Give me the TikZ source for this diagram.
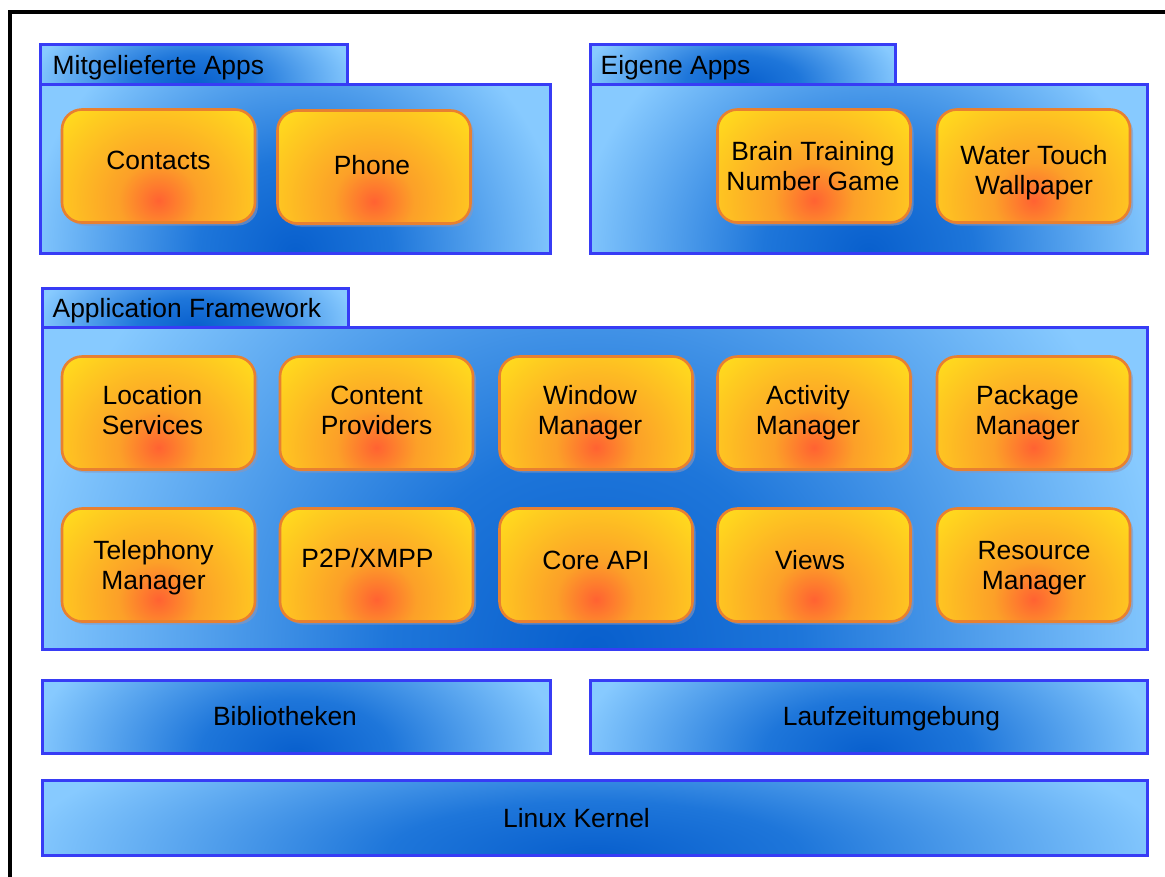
\documentclass[tikz,border=0pt]{standalone}
\usepackage{fontspec}
\setmainfont{Liberation Sans}
\usetikzlibrary{calc,shadows}

% panel blues
\definecolor{pdark}{RGB}{8,95,205}
\definecolor{pmid}{RGB}{30,118,218}
\definecolor{plight}{RGB}{135,202,255}
\definecolor{pborder}{RGB}{55,60,245}
% component oranges
\definecolor{ored}{RGB}{255,98,50}
\definecolor{oorange}{RGB}{252,160,40}
\definecolor{oyellow}{RGB}{255,216,30}
\definecolor{oborder}{RGB}{232,128,48}
\definecolor{oshadow}{RGB}{140,150,185}

\pgfdeclareradialshading{blueglow}{\pgfpoint{0bp}{0bp}}{%
  color(0bp)=(pdark); color(9bp)=(pmid); color(25bp)=(plight); color(50bp)=(plight)}
\pgfdeclareradialshading{orangeglow}{\pgfpoint{0bp}{0bp}}{%
  color(0bp)=(ored); color(8bp)=(oorange); color(25bp)=(oyellow); color(50bp)=(oyellow)}

\tikzset{
  txt/.style={inner sep=0pt, align=center, text=black,
              font=\fontsize{26.4}{30}\selectfont},
  panel/.style 2 args={draw=pborder, fill=plight, line width=3pt, rectangle, inner sep=0pt,
    path picture={\shade[shading=blueglow]
      (path picture bounding box.south) ellipse (#1 and #2);}},
  appbox/.style={draw=oborder, fill=oyellow, line width=2.6pt, rounded corners=20pt,
    minimum width=193pt, minimum height=113pt, inner sep=0pt,
    drop shadow={shadow xshift=3pt, shadow yshift=-3pt, fill=oshadow, opacity=0.6},
    path picture={\shade[shading=orangeglow]
      ($(path picture bounding box.south)+(0,-22)$) ellipse (125pt and 118pt);}},
}

% component box: name, centre x, centre y, text dx, text dy, text
\newcommand\mkapp[6]{%
  \node[appbox] (#1) at (#2,#3) {};
  \node[txt] (#1-t) at ($(#1)+(#4,#5)$) {#6};}

\begin{document}
\begin{tikzpicture}[x=1pt,y=-1pt]
\useasboundingbox (0,0) rectangle (1165,876);

% outer frame, running off the page to the right and bottom
\begin{scope}
  \clip (0,0) rectangle (1165,876);
  \draw[line width=3.5pt] (10,900) -- (10,12) -- (1200,12);
\end{scope}

% ---- Mitgelieferte Apps
\node[panel={268pt}{260pt}, minimum width=510pt, minimum height=169pt] (mitbody) at (295,168.5) {};
\node[panel={162pt}{80pt}, minimum width=307pt, minimum height=40pt] (mittab) at (193.5,64) {};
\node[txt, anchor=west] (mitlbl) at ($(mittab.west)+(14,4)$) {Mitgelieferte Apps};

% ---- Eigene Apps
\node[panel={292pt}{260pt}, minimum width=557pt, minimum height=169pt] (eigbody) at (868.5,168.5) {};
\node[panel={160pt}{80pt}, minimum width=305pt, minimum height=40pt] (eigtab) at (742.5,64) {};
\node[txt, anchor=west] (eiglbl) at ($(eigtab.west)+(12,4)$) {Eigene Apps};

% ---- Application Framework
\node[panel={575pt}{560pt}, minimum width=1105pt, minimum height=322pt] (fwbody) at (594.5,488) {};
\node[panel={161pt}{80pt}, minimum width=306pt, minimum height=39pt] (fwtab) at (195,307.5) {};
\node[txt, anchor=west] (fwlbl) at ($(fwtab.west)+(12,3)$) {Application Framework};

% ---- lower layers
\node[panel={265pt}{150pt}, minimum width=508pt, minimum height=73pt] (bib) at (296,716.5) {};
\node[txt] (bib-t) at ($(bib)+(-11,0)$) {Bibliotheken};
\node[panel={290pt}{150pt}, minimum width=557pt, minimum height=73pt] (lauf) at (868.5,716.5) {};
\node[txt] (lauf-t) at ($(lauf)+(23,2)$) {Laufzeitumgebung};
\node[panel={575pt}{150pt}, minimum width=1105pt, minimum height=75pt] (kernel) at (594.5,817.5) {};
\node[txt] (kernel-t) at ($(kernel)+(-18,1)$) {Linux Kernel};

% ---- applications
\mkapp{contacts}{158.5}{166}{0}{-6}{Contacts}
\mkapp{phone}{374}{167}{-2}{-2}{Phone}
\mkapp{brain}{814}{166}{-1}{0}{Brain Training\\Number Game}
\mkapp{water}{1033.5}{166}{0.5}{7}{Water Touch\\Wallpaper}

% ---- framework row 1
\mkapp{location}{158.5}{413}{-6}{-3}{Location\\Services}
\mkapp{content}{376.5}{413}{0}{-3}{Content\\Providers}
\mkapp{window}{596}{413}{-6}{0}{Window\\Manager}
\mkapp{activity}{814}{413}{-6}{0}{Activity\\Manager}
\mkapp{package}{1033.5}{413}{-6}{0}{Package\\Manager}

% ---- framework row 2
\mkapp{telephony}{158.5}{565}{-5}{3}{Telephony\\Manager}
\mkapp{ptp}{376.5}{565}{-9}{-7}{P2P/XMPP}
\mkapp{coreapi}{596}{565}{0}{-5}{Core API}
\mkapp{views}{814}{565}{-4}{-5}{Views}
\mkapp{resource}{1033.5}{565}{0.5}{3}{Resource\\Manager}
\end{tikzpicture}
\end{document}
